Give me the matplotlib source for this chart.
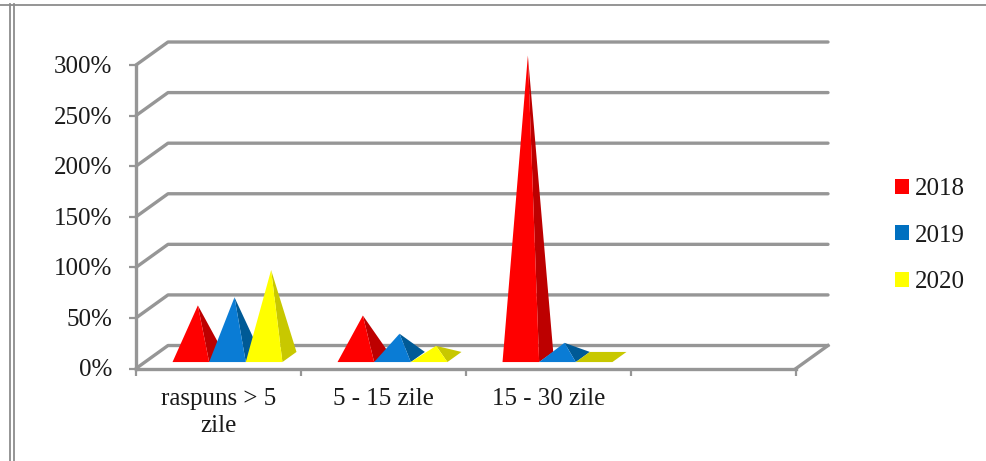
import matplotlib
matplotlib.use("Agg")
import matplotlib.pyplot as plt
from matplotlib.lines import Line2D
from matplotlib.patches import Patch, Polygon
from matplotlib.transforms import ScaledTranslation

W, H = 987, 461

categories = ["raspuns > 5\nzile", "5 - 15 zile", "15 - 30 zile", ""]
years = ["2018", "2019", "2020"]
values_2018 = [51, 41, 298]
values_2019 = [59, 23, 14]
values_2020 = [86, 11, 0]
y_ticks = [0, 50, 100, 150, 200, 250, 300]

front_colors = ["#ff0000", "#0a7cd5", "#ffff00"]
side_colors = ["#bd0000", "#005a96", "#c8c800"]
legend_colors = ["#ff0000", "#0070c0", "#ffff00"]
GRID = "#969696"
TEXT = "#1a1a1a"

# oblique depth of the floor, in data units (1 category / 1 percent)
DEPTH_X = 32 / 165
DEPTH_Y = 23 / 1.012
BAR_W = 0.222
GROUP_START = 0.167

plt.rcParams["font.family"] = ["Liberation Serif", "DejaVu Serif"]
plt.rcParams["font.size"] = 18

fig = plt.figure(figsize=(W / 100, H / 100), dpi=100)
ax = fig.add_axes([136 / W, 1 - 368.5 / H, 660 / W, 303.5 / H])
ax.set_xlim(0, len(categories))
ax.set_ylim(0, 300)
ax.patch.set_visible(False)


def project(x, y, depth):
    return (x + depth * DEPTH_X, y + depth * DEPTH_Y)


def draw_pyramid(x0, value, front, side):
    fl = project(x0, 0, 0.28)
    fr = project(x0 + BAR_W, 0, 0.28)
    br = project(x0 + BAR_W, 0, 0.72)
    bl = project(x0, 0, 0.72)
    apex = project(x0 + BAR_W / 2, value, 0.5)
    if value == 0:
        # flat pyramid, only its base shows
        ax.add_patch(Polygon([fl, fr, br, bl], fc=side, ec="none", zorder=3, clip_on=False))
        return
    ax.add_patch(Polygon([fr, br, apex], fc=side, ec="none", zorder=3, clip_on=False))
    ax.add_patch(Polygon([fl, fr, apex], fc=front, ec="none", zorder=3, clip_on=False))


# back wall and side wall lines
for t in y_ticks:
    ax.plot([0, DEPTH_X, len(categories) + DEPTH_X], [t, t + DEPTH_Y, t + DEPTH_Y],
            color=GRID, lw=2.4, clip_on=False, zorder=1, solid_capstyle="round")
ax.plot([len(categories), len(categories) + DEPTH_X], [0, DEPTH_Y],
        color=GRID, lw=2.4, clip_on=False, zorder=1)

series = [values_2018, values_2019, values_2020]
for s, vals in enumerate(series):
    for c, v in enumerate(vals):
        draw_pyramid(c + GROUP_START + s * BAR_W, v, front_colors[s], side_colors[s])

for name in ["top", "right"]:
    ax.spines[name].set_visible(False)
for name in ["left", "bottom"]:
    ax.spines[name].set_color(GRID)
    ax.spines[name].set_linewidth(2.4)

ax.set_yticks(y_ticks)
ax.set_yticklabels([f"{t}%" for t in y_ticks], color=TEXT)
ax.set_xticks(range(len(categories) + 1))
ax.set_xticklabels([])
ax.set_xticks([i + 0.5 for i in range(len(categories))], minor=True)
ax.set_xticklabels(categories, minor=True, color=TEXT, linespacing=1.3)
ax.tick_params(axis="y", length=5, width=1.6, color=GRID, pad=12)
ax.tick_params(axis="x", which="major", length=5, width=1.6, color=GRID)
ax.tick_params(axis="x", which="minor", length=0, pad=14)

# labels sit a little above their ticks
nudge = ScaledTranslation(0, 0.4 / 72, fig.dpi_scale_trans)
for label in ax.get_yticklabels():
    label.set_transform(label.get_transform() + nudge)

handles = [Patch(fc=c, ec="none", label=y) for c, y in zip(legend_colors, years)]
ax.legend(handles=handles, loc="center left", bbox_to_anchor=(895 / W, 1 - 235.5 / H),
          bbox_transform=fig.transFigure, frameon=False, borderpad=0, borderaxespad=0,
          handlelength=0.56, handleheight=0.56, handletextpad=0.22, labelspacing=0.98,
          labelcolor=TEXT)

# page border left over from the document
for xs, ys in [([0, W], [5, 5]), ([10, 10], [4, H]), ([14.5, 14.5], [4, H])]:
    fig.add_artist(Line2D([x / W for x in xs], [1 - y / H for y in ys],
                          color="#8c8c8c", lw=1.3))

fig.savefig("out.png", dpi=100)
